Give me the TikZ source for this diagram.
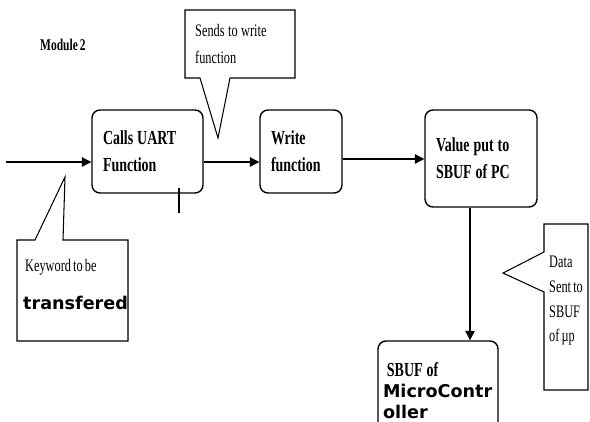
\documentclass[tikz,border=0pt]{standalone}
\usepackage{fontspec}
\setmainfont{Liberation Serif}[FakeStretch=0.7, WordSpace=0.7]
\newfontfamily\widesans{DejaVu Sans}
\usetikzlibrary{arrows.meta}

\newcommand{\wsp}{\hspace{0.2em}}

\tikzset{
	block/.style={draw, line width=1.2pt, rounded corners=2.4mm, align=left, inner xsep=0.33cm,
		font=\fontsize{17}{23}\selectfont\bfseries},
	arr/.style={line width=0.9pt, -{Triangle[length=2.8mm, width=2.8mm]}},
	note/.style={font=\fontsize{15}{20}\selectfont, inner sep=0pt, anchor=west}
}

\begin{document}
\begin{tikzpicture}

\clip (0,0) rectangle (17.7,-12.63);

\node[note, font=\fontsize{14}{18}\selectfont\bfseries] (title) at (1.2,-1.35) {Module 2};

% blocks
\node[block, minimum width=3.33cm, minimum height=2.49cm, text width=2.67cm] (calls) at (4.425,-4.545) {Calls\wsp UART\\Function};
\node[block, minimum width=2.46cm, minimum height=2.49cm, text width=1.8cm] (write) at (9.03,-4.545) {Write\\function};
\node[block, minimum width=3.36cm, minimum height=2.91cm, text width=2.7cm] (value) at (14.43,-4.755) {Value\wsp put\wsp to\\SBUF\wsp of\wsp PC};
\node[block, minimum width=3.6cm, minimum height=2.97cm, text width=3.3cm, inner xsep=0.15cm,
	font=\fontsize{17}{18}\selectfont\bfseries] (sbuf) at (13.14,-11.715)
	{\wsp SBUF\wsp of\\{\widesans\fontsize{15}{18}\selectfont MicroContr}\\{\widesans\fontsize{15}{18}\selectfont oller}};

% connectors
\coordinate (in) at (0.18,-4.86);
\draw[arr] (in) -- (in -| calls.west);
\draw[arr] ([yshift=-0.315cm]calls.east) -- ([yshift=-0.315cm]write.west);
\draw[arr] ([yshift=-0.225cm]write.east) -- ([yshift=-0.225cm]write.east -| value.west);
\draw[arr] ([xshift=-0.33cm]value.south) -- ([xshift=-0.33cm]value.south |- sbuf.north);

\draw[line width=0.9pt] (5.37,-5.64) -- (5.37,-6.39);

% callouts
\draw[line width=0.9pt] (5.55,-0.3) -- (8.85,-0.3) -- (8.85,-2.34) -- (6.9,-2.34) -- (6.54,-4.14)
	-- (6.0,-2.34) -- (5.55,-2.34) -- cycle;
\node[note, anchor=north west, align=left, font=\fontsize{15}{23}\selectfont] (sends) at (5.85,-0.72) {Sends\wsp to\wsp write\\function};

\draw[line width=0.9pt] (0.51,-7.2) -- (1.05,-7.2) -- (1.95,-5.31) -- (1.89,-7.2) -- (3.84,-7.2)
	-- (3.84,-10.23) -- (0.51,-10.23) -- cycle;
\node[note] (key) at (0.75,-8.01) {Keyword to be};
\node[note, font=\widesans\fontsize{15}{18}\selectfont\bfseries] (trans) at (0.69,-9.09) {transfered};

\draw[line width=0.9pt] (16.32,-6.72) -- (17.64,-6.72) -- (17.64,-11.7) -- (16.32,-11.7) -- (16.32,-8.76)
	-- (15.09,-8.19) -- (16.32,-7.56) -- cycle;
\foreach \t [count=\i] in {Data, Sent to, SBUF, of µp}
{
	\node[note] (data\i) at (16.47, -7.86 - 0.75*\i + 0.75) {\t};
}

\end{tikzpicture}
\end{document}
